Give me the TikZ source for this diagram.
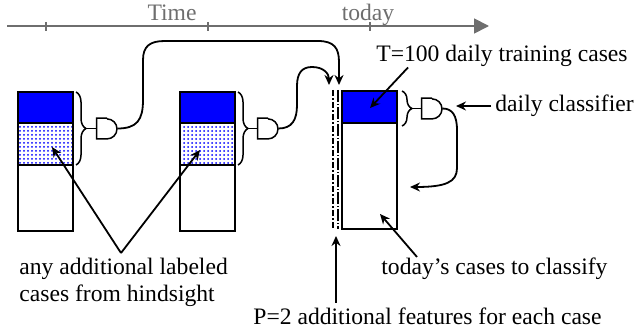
\documentclass[tikz,border=0pt]{standalone}
\usepackage{fontspec}
\setmainfont{Liberation Serif}
\usetikzlibrary{arrows.meta,decorations.pathreplacing,patterns.meta}
\definecolor{timegray}{RGB}{110,110,110}
\tikzset{
  cell/.style={draw, line width=0.75pt, minimum width=27.5pt, inner sep=0pt},
  known/.style={cell, fill=blue},
  hind/.style={cell, pattern={Dots[distance=2pt,radius=0.5pt]}, pattern color=blue},
  gate/.style={minimum width=10pt, minimum height=10pt, inner sep=0pt},
  bracestyle/.style={decorate, decoration={brace, amplitude=5pt}, line width=0.75pt},
  link/.style={line width=0.9pt, -{Stealth[length=5pt,width=4.5pt]}},
  lab/.style={font=\fontsize{11.8}{13.5}\selectfont, inner sep=0pt},
}
\begin{document}
\begin{tikzpicture}[x=0.5pt, y=-0.5pt]
\useasboundingbox (0,0) rectangle (635,331);
% time axis
\draw[timegray, line width=0.9pt, -{Triangle[length=7.5pt,width=7.5pt]}] (7,26) -- (489,26);
\foreach \tx in {46,208,370}
  \draw[timegray, line width=0.9pt] (\tx,22) -- (\tx,31);
\node[lab, timegray, anchor=base] (timelab) at (172,21) {Time};
\node[lab, timegray, anchor=base] (nowlab) at (368,21) {today};

% past days
\foreach \n/\cx in {1/45.5, 2/207.5} {
  \node[known, minimum height=15.5pt] (top\n) at (\cx,107.5) {};
  \node[hind, minimum height=21pt] (mid\n) at (\cx,144) {};
  \node[cell, minimum height=33pt] (bot\n) at (\cx,198) {};
}
% today
\node[known, minimum height=16pt] (top3) at (369.5,107) {};
\node[cell, minimum height=53pt] (bot3) at (369.5,176) {};

% braces and classifiers
\draw[bracestyle] (76,92) -- (76,165);
\draw[bracestyle] (238,92) -- (238,165);
\draw[bracestyle] (402,91) -- (402,126);
\node[gate] (g1) at (107,128.5) {};
\node[gate] (g2) at (268,128.5) {};
\node[gate] (g3) at (432,108.5) {};
\coordinate (b1) at (86,128.5);
\coordinate (b2) at (248,128.5);
\coordinate (b3) at (412,108.5);
\foreach \n in {1,2,3} {
  \draw[line width=0.75pt] (g\n.north) -- (g\n.north west) -- (g\n.south west) -- (g\n.south)
    arc[start angle=-90, end angle=90, radius=5pt];
  \draw[line width=0.75pt] (b\n) -- (g\n.west);
}

% extra features
\draw[line width=0.6pt, dash pattern=on 3pt off 1.2pt on 0.6pt off 1.2pt] (333,90) -- (333,229);
\draw[line width=0.6pt, dash pattern=on 6pt off 1pt on 0.5pt off 1pt] (338,90) -- (338,229);
\coordinate (feat1) at (339,85);
\coordinate (feat2) at (329,85);
\draw[link] (g1.east) .. controls (137,128.5) and (143,120) .. (143,100) -- (143,60)
  .. controls (143,46) and (150,41) .. (165,41) -- (318,41)
  .. controls (334,41) and (339,48) .. (339,62) -- (feat1);
\draw[link] (g2.east) .. controls (292,128.5) and (297,120) .. (297,105) -- (297,86)
  .. controls (297,73) and (302,67) .. (312,67) .. controls (324,67) and (329,74) .. (feat2);
\coordinate (clsout) at (410,187);
\draw[link] (g3.east) .. controls (452,108.5) and (457,115) .. (457,130) -- (457,168)
  .. controls (457,182) and (446,187) .. (clsout);

% labels
\node[lab, anchor=base west] (trainlab) at (376,62) {T=100 daily training cases};
\coordinate (trainin) at (370,108);
\draw[link] ([xshift=16pt]trainlab.south west) -- (trainin);
\node[lab, anchor=west] (clslab) at (495,106) {daily classifier};
\coordinate (clsin) at (456,106);
\draw[link] ([xshift=-2pt]clslab.west) -- (clsin);
\node[lab, anchor=base west] (caselab) at (381,274) {today’s cases to classify};
\coordinate (casein) at (380,214);
\draw[link] ([xshift=18pt]caselab.north west) -- (casein);
\node[lab, anchor=north west, align=left] (hindlab) at (19,258) {any additional labeled\\cases from hindsight};
\coordinate (hindtop) at (121,253);
\coordinate (hind1) at (52,147);
\coordinate (hind2) at (200,150);
\draw[link] (hindtop) -- (hind1);
\draw[link] (hindtop) -- (hind2);
\node[lab, anchor=base east] (featlab) at (602,324) {P=2 additional features for each case};
\coordinate (feattip) at (336,236);
\draw[link] ([yshift=2pt]featlab.north -| feattip) -- (feattip);
\end{tikzpicture}
\end{document}
